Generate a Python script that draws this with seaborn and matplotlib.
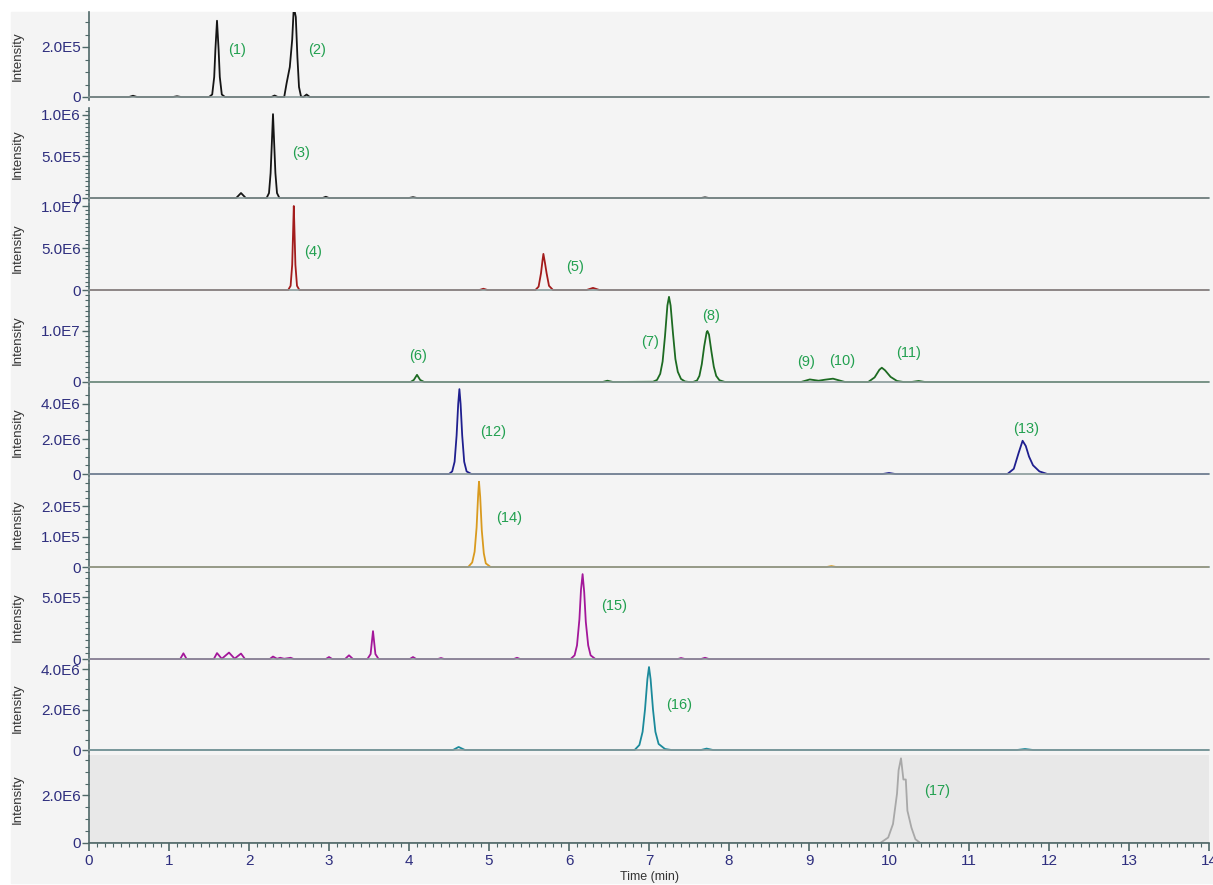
import matplotlib
matplotlib.use('Agg')
import matplotlib.pyplot as plt
import seaborn as sns
from matplotlib.patches import Rectangle
from matplotlib.ticker import MultipleLocator, FuncFormatter

# chromatogram traces: retention time (min) and intensity
t1 = [0, 0.50, 0.55, 0.60, 1.05, 1.10, 1.15, 1.50, 1.54, 1.565, 1.58, 1.60, 1.62, 1.635, 1.66, 1.70,
      2.28, 2.32, 2.36, 2.44, 2.47, 2.51, 2.54, 2.56, 2.585, 2.605, 2.625, 2.65, 2.68, 2.72, 2.76, 14]
y1 = [0, 0, 0.05e5, 0, 0, 0.03e5, 0, 0, 0.1e5, 0.8e5, 1.9e5, 3.05e5, 1.9e5, 0.8e5, 0.1e5, 0,
      0, 0.06e5, 0, 0, 0.55e5, 1.2e5, 2.3e5, 3.6e5, 3.2e5, 1.6e5, 0.4e5, 0.02e5, 0, 0.1e5, 0, 0]

t2 = [0, 1.84, 1.88, 1.90, 1.92, 1.96, 2.22, 2.25, 2.27, 2.285, 2.30, 2.315, 2.33, 2.35, 2.38,
      2.92, 2.96, 3.00, 4.00, 4.05, 4.10, 7.65, 7.70, 7.75, 14]
y2 = [0, 0, 0.04e6, 0.06e6, 0.04e6, 0, 0, 0.06e6, 0.3e6, 0.65e6, 1.01e6, 0.65e6, 0.3e6, 0.06e6, 0,
      0, 0.015e6, 0, 0, 0.01e6, 0, 0, 0.008e6, 0, 0]

t3 = [0, 2.49, 2.52, 2.54, 2.55, 2.56, 2.57, 2.58, 2.60, 2.63, 4.88, 4.93, 4.98,
      5.58, 5.62, 5.65, 5.67, 5.68, 5.70, 5.72, 5.75, 5.80, 6.22, 6.30, 6.38, 14]
y3 = [0, 0, 0.5e6, 3e6, 6.5e6, 1.0e7, 6.5e6, 3e6, 0.5e6, 0, 0, 0.15e6, 0,
      0, 0.4e6, 2.0e6, 3.6e6, 4.3e6, 3.2e6, 2.0e6, 0.5e6, 0, 0, 0.25e6, 0, 0]

t4 = [0, 4.02, 4.06, 4.10, 4.14, 4.19, 6.42, 6.48, 6.55,
      7.05, 7.10, 7.14, 7.17, 7.20, 7.23, 7.25, 7.27, 7.30, 7.33, 7.36, 7.40, 7.45, 7.50,
      7.55, 7.60, 7.63, 7.66, 7.69, 7.72, 7.73, 7.75, 7.78, 7.81, 7.84, 7.88, 7.95,
      8.90, 9.01, 9.12, 9.20, 9.30, 9.38, 9.45,
      9.74, 9.82, 9.88, 9.91, 9.95, 10.02, 10.10, 10.18, 10.28, 10.37, 10.45, 14]
y4 = [0, 0, 0.4e6, 1.4e6, 0.4e6, 0, 0, 0.25e6, 0,
      0.05e6, 0.4e6, 1.6e6, 4.0e6, 9.0e6, 1.5e7, 1.67e7, 1.5e7, 9.5e6, 4.5e6, 2.0e6, 0.6e6, 0.1e6, 0,
      0, 0.3e6, 1.2e6, 3.5e6, 7.0e6, 9.7e6, 1.0e7, 9.3e6, 6.0e6, 3.0e6, 1.2e6, 0.35e6, 0,
      0, 0.5e6, 0.25e6, 0.45e6, 0.65e6, 0.3e6, 0,
      0, 0.9e6, 2.4e6, 2.8e6, 2.3e6, 1.0e6, 0.2e6, 0, 0, 0.2e6, 0, 0]

t5 = [0, 4.50, 4.54, 4.57, 4.595, 4.615, 4.63, 4.645, 4.665, 4.69, 4.72, 4.78, 9.92, 10.00, 10.08,
      11.48, 11.56, 11.62, 11.67, 11.71, 11.75, 11.80, 11.88, 11.98, 14]
y5 = [0, 0, 0.15e6, 0.7e6, 2.2e6, 4.0e6, 4.85e6, 4.0e6, 2.2e6, 0.7e6, 0.15e6, 0, 0, 0.06e6, 0,
      0, 0.3e6, 1.2e6, 1.9e6, 1.6e6, 1.0e6, 0.5e6, 0.15e6, 0, 0]

t6 = [0, 4.74, 4.79, 4.82, 4.845, 4.865, 4.875, 4.89, 4.91, 4.935, 4.96, 5.02, 9.22, 9.28, 9.34, 14]
y6 = [0, 0, 0.15e5, 0.5e5, 1.3e5, 2.4e5, 2.8e5, 2.3e5, 1.2e5, 0.45e5, 0.12e5, 0, 0, 0.03e5, 0, 0]

t7 = [0, 1.14, 1.18, 1.22, 1.56, 1.60, 1.66, 1.75, 1.82, 1.90, 1.95,
      2.26, 2.30, 2.35, 2.39, 2.44, 2.52, 2.56, 2.96, 3.00, 3.04, 3.20, 3.25, 3.30,
      3.48, 3.52, 3.55, 3.58, 3.62, 4.01, 4.05, 4.09, 4.36, 4.40, 4.44, 5.31, 5.35, 5.39,
      6.02, 6.07, 6.10, 6.13, 6.15, 6.17, 6.19, 6.21, 6.24, 6.27, 6.33,
      7.36, 7.40, 7.45, 7.65, 7.70, 7.75, 14]
y7 = [0, 0, 0.46e5, 0, 0, 0.48e5, 0.02e5, 0.52e5, 0.03e5, 0.44e5, 0,
      0, 0.2e5, 0.02e5, 0.1e5, 0.02e5, 0.1e5, 0, 0, 0.16e5, 0, 0, 0.3e5, 0,
      0, 0.4e5, 2.25e5, 0.4e5, 0, 0, 0.16e5, 0, 0, 0.08e5, 0, 0, 0.1e5, 0,
      0, 0.3e5, 1.1e5, 3.2e5, 5.6e5, 6.85e5, 5.4e5, 3.0e5, 1.1e5, 0.3e5, 0,
      0, 0.08e5, 0, 0, 0.1e5, 0, 0]

t8 = [0, 4.55, 4.62, 4.70, 6.82, 6.88, 6.92, 6.95, 6.98, 7.00, 7.02, 7.05, 7.08, 7.12, 7.20, 7.28,
      7.65, 7.72, 7.80, 11.60, 11.70, 11.80, 14]
y8 = [0, 0, 0.15e6, 0, 0, 0.25e6, 0.9e6, 2.0e6, 3.5e6, 4.1e6, 3.5e6, 2.0e6, 0.9e6, 0.3e6, 0.05e6, 0,
      0, 0.07e6, 0, 0, 0.05e6, 0, 0]

t9 = [0, 9.89, 9.99, 10.05, 10.10, 10.12, 10.15, 10.18, 10.21, 10.23, 10.28, 10.33, 10.39, 14]
y9 = [0, 0, 0.23e6, 0.8e6, 2.07e6, 3.06e6, 3.56e6, 2.67e6, 2.67e6, 1.36e6, 0.65e6, 0.16e6, 0, 0]

trace_t = [t1, t2, t3, t4, t5, t6, t7, t8, t9]
trace_y = [y1, y2, y3, y4, y5, y6, y7, y8, y9]
trace_colors = ['#151515', '#151515', '#a31c1c', '#1d6b22', '#1f1f8f',
                '#d99a1e', '#a3179a', '#1b8a9b', '#a8a8a8']

# y axis range, major / minor tick step of each panel
y_lims = [(-1.2e4, 3.4e5), (-3.6e4, 1.084e6), (-3.57e5, 1.036e7), (-5.9e5, 1.706e7),
          (-1.7e5, 4.97e6), (-9.8e3, 2.89e5), (-2.4e4, 7.02e5), (-1.48e5, 4.25e6),
          (0, 3.70e6)]
y_major = [2e5, 5e5, 5e6, 1e7, 2e6, 1e5, 5e5, 2e6, 2e6]
y_minor = [5e4, 5e4, 5e5, 1e6, 5e5, 2.5e4, 5e4, 5e5, 5e5]

# peak labels: text, time, panel, intensity
peak_labels = ['(1)', '(2)', '(3)', '(4)', '(5)', '(6)', '(7)', '(8)', '(9)', '(10)',
               '(11)', '(12)', '(13)', '(14)', '(15)', '(16)', '(17)']
peak_x = [1.85, 2.85, 2.65, 2.80, 6.07, 4.11, 7.01, 7.78, 8.96, 9.41,
          10.24, 5.05, 11.71, 5.25, 6.56, 7.375, 10.60]
peak_panel = [0, 0, 1, 2, 2, 3, 3, 3, 3, 3, 3, 4, 4, 5, 6, 7, 8]
peak_y = [1.88e5, 1.88e5, 0.54e6, 4.5e6, 2.7e6, 5.1e6, 7.8e6, 1.29e7, 3.9e6, 4.1e6,
          5.7e6, 2.4e6, 2.57e6, 1.6e5, 4.27e5, 2.2e6, 2.17e6]

sns.set_style('ticks')
plt.rcParams['font.family'] = ['Liberation Sans', 'DejaVu Sans']

W, H = 1213, 885
fig = plt.figure(figsize=(W / 100, H / 100), dpi=100, facecolor='white')
fig.patches.append(Rectangle((11 / W, 1 - 883 / H), (W - 11) / W, (883 - 12) / H,
                             transform=fig.transFigure, color='#f4f4f4', zorder=-10))

# panel top / bottom in pixels
tops = [12, 108, 203, 295, 387, 479, 572, 664, 755]
bottoms = [100, 201, 293, 385, 477, 570, 662, 753, 843]

spine_col = '#4f6868'
tick_col = '#2e2e7e'


def sci_fmt(v, pos):
    if abs(v) < 1e-9:
        return '0'
    m, e = f'{v:.1E}'.split('E')
    return f'{m}E{int(e)}'


axes = []
for i in range(9):
    ax = fig.add_axes([89 / W, 1 - bottoms[i] / H, 1120 / W, (bottoms[i] - tops[i]) / H],
                      sharex=axes[0] if axes else None)
    axes.append(ax)
    ax.set_facecolor('#e8e8e8' if i == 8 else '#f4f4f4')
    sns.lineplot(x=trace_t[i], y=trace_y[i], ax=ax, color=trace_colors[i],
                 lw=1.3, estimator=None, sort=False)
    ax.set_ylim(*y_lims[i])
    ax.set_xlim(0, 14)
    ax.yaxis.set_major_locator(MultipleLocator(y_major[i]))
    ax.yaxis.set_minor_locator(MultipleLocator(y_minor[i]))
    ax.yaxis.set_major_formatter(FuncFormatter(sci_fmt))
    ax.tick_params(axis='y', which='major', length=5, width=1, color=spine_col,
                   labelcolor=tick_col, labelsize=11, pad=1)
    ax.tick_params(axis='y', which='minor', length=3, width=0.8, color=spine_col)
    for s in ['top', 'right']:
        ax.spines[s].set_visible(False)
    ax.spines['left'].set_color(spine_col)
    ax.spines['left'].set_linewidth(1.2)
    ax.spines['bottom'].set_position(('data', 0))
    ax.spines['bottom'].set_color('#8a9a9a' if i < 8 else spine_col)
    ax.spines['bottom'].set_linewidth(1.2)
    ax.set_ylabel('Intensity', fontsize=9.5, color='#333333')
    ax.yaxis.set_label_coords(-0.058, 0.5)
    ax.set_xlabel('')
    if i < 8:
        ax.tick_params(axis='x', which='both', length=0, labelbottom=False)

for lab, x, p, y in zip(peak_labels, peak_x, peak_panel, peak_y):
    axes[p].text(x, y, lab, ha='center', va='center', fontsize=10.5, color='#22a050')

ax = axes[8]
ax.xaxis.set_major_locator(MultipleLocator(1))
ax.xaxis.set_minor_locator(MultipleLocator(0.1))
ax.tick_params(axis='x', which='major', length=6, width=1.2, color=spine_col,
               labelcolor=tick_col, labelsize=11, pad=2)
ax.tick_params(axis='x', which='minor', length=3, width=0.8, color=spine_col)
ax.set_xlabel('Time (min)', fontsize=9, color='#333333', labelpad=2)

fig.savefig('out.png', dpi=100, facecolor=fig.get_facecolor())
